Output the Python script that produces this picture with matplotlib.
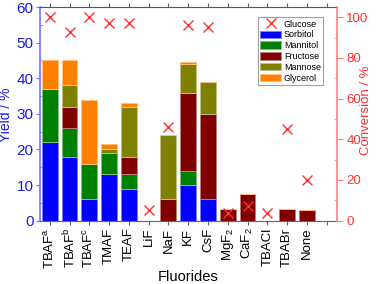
import matplotlib
matplotlib.use("Agg")
import matplotlib.pyplot as plt
import numpy as np
from matplotlib.lines import Line2D
from matplotlib.patches import Patch
from matplotlib.ticker import MultipleLocator

plt.rcParams['font.family'] = ['Liberation Sans', 'DejaVu Sans']
plt.rcParams['mathtext.fontset'] = 'custom'
plt.rcParams['mathtext.rm'] = 'Liberation Sans'
plt.rcParams['mathtext.it'] = 'Liberation Sans:italic'

categories = ['TBAF$^\\mathrm{a}$', 'TBAF$^\\mathrm{b}$', 'TBAF$^\\mathrm{c}$', 'TMAF', 'TEAF', 'LiF', 'NaF',
              'KF', 'CsF', 'MgF$_\\mathrm{2}$', 'CaF$_\\mathrm{2}$', 'TBACl', 'TBABr', 'None']
sorbitol = [22, 18, 6, 13, 9, 0, 0, 10, 6, 0, 0, 0, 0, 0]
mannitol = [15, 8, 10, 6, 4, 0, 0, 4, 0, 0, 0, 0, 0, 0]
fructose = [0, 6, 0, 0, 5, 0, 6, 22, 24, 3.3, 7.5, 0, 3.4, 2.9]
mannose = [0, 6, 0, 1, 14, 0, 18, 8, 9, 0, 0, 0, 0, 0]
glycerol = [8, 7, 18, 1.5, 1, 0, 0, 0.5, 0, 0, 0, 0, 0, 0]
conversion = [100, 93, 100, 97, 97, 5, 46, 96, 95, 4, 7, 4, 45, 20]

series = [('Sorbitol', sorbitol, '#0000FF', '#8080FF'),
          ('Mannitol', mannitol, '#008000', '#80C080'),
          ('Fructose', fructose, '#800000', '#C08080'),
          ('Mannose', mannose, '#808000', '#C0C080'),
          ('Glycerol', glycerol, '#FF8000', '#FFC080')]

fig = plt.figure(figsize=(3.76, 2.84), dpi=100)
ax = fig.add_axes([0.106, 0.223, 0.789, 0.752])
x = np.arange(len(categories))
bottom = np.zeros(len(categories))
for name, vals, col, ecol in series:
    v = np.array(vals, dtype=float)
    ax.bar(x, v, 0.8, bottom=bottom, color=col, edgecolor=ecol, linewidth=0.7, label=name, zorder=2)
    bottom += v

ax.set_xlim(-0.5, 14.5)
ax.set_ylim(0, 60)
ax.set_xticks(np.arange(15))
ax.set_xticklabels(categories + [''], rotation=90, fontsize=9.5)
ax.yaxis.set_major_locator(MultipleLocator(10))
ax.yaxis.set_minor_locator(MultipleLocator(5))
blue_lab = '#1A1AE6'
ax.set_ylabel('Yield / %', color=blue_lab, fontsize=10)
ax.yaxis.set_label_coords(-0.09, 0.494)
ax.set_xlabel('Fluorides', fontsize=10.5, labelpad=1)
ax.tick_params(axis='y', which='major', colors='#7070FF', labelcolor=blue_lab, labelsize=11, length=3, direction='out', pad=1.5)
ax.tick_params(axis='y', which='minor', colors='#7070FF', length=2, direction='in')
ax.tick_params(axis='x', which='major', colors='#606070', labelcolor='black', length=3, direction='out', top=True, pad=2)
ax.tick_params(axis='x', which='minor', bottom=False, top=False)
ax.spines['left'].set_color('#7070FF')
ax.spines['left'].set_linewidth(1.2)
ax.spines['top'].set_color('#555555')
ax.spines['bottom'].set_color('#606080')
ax.spines['right'].set_visible(False)

ax2 = ax.twinx()
ax2.set_ylim(0, 105)
ax2.plot(x, conversion, linestyle='none', marker='x', markersize=7, markeredgewidth=1.0, color='#FF3030', zorder=3)
ax2.yaxis.set_major_locator(MultipleLocator(20))
ax2.yaxis.set_minor_locator(MultipleLocator(10))
red_lab = '#FF3030'
ax2.set_ylabel('Conversion / %', color=red_lab, fontsize=9.5)
ax2.yaxis.set_label_coords(1.08, 0.518)
ax2.tick_params(axis='y', which='major', colors='#FF8080', labelcolor=red_lab, labelsize=9.5, length=4, direction='out', pad=3)
ax2.tick_params(axis='y', which='minor', colors='#FF8080', length=2, direction='in')
ax2.spines['right'].set_color('#FF8080')
ax2.spines['right'].set_linewidth(1.2)
ax2.spines['left'].set_visible(False)
ax2.spines['top'].set_visible(False)
ax2.spines['bottom'].set_visible(False)

handles = [Line2D([], [], linestyle='none', marker='x', markersize=7, markeredgewidth=1.0, color='#FF3030')]
labels = ['Glucose']
for name, vals, col, ecol in series:
    handles.append(Patch(facecolor=col, edgecolor=ecol, linewidth=0.7))
    labels.append(name)
leg = ax2.legend(handles, labels, loc='upper right', bbox_to_anchor=(0.955, 0.952), fontsize=6.5,
                 frameon=True, fancybox=False, edgecolor='#888888', handlelength=2.3, handleheight=0.9,
                 labelspacing=0.2, borderpad=0.25, handletextpad=0.3, borderaxespad=0)
leg.get_frame().set_linewidth(0.8)

fig.savefig('out.png', dpi=100)
